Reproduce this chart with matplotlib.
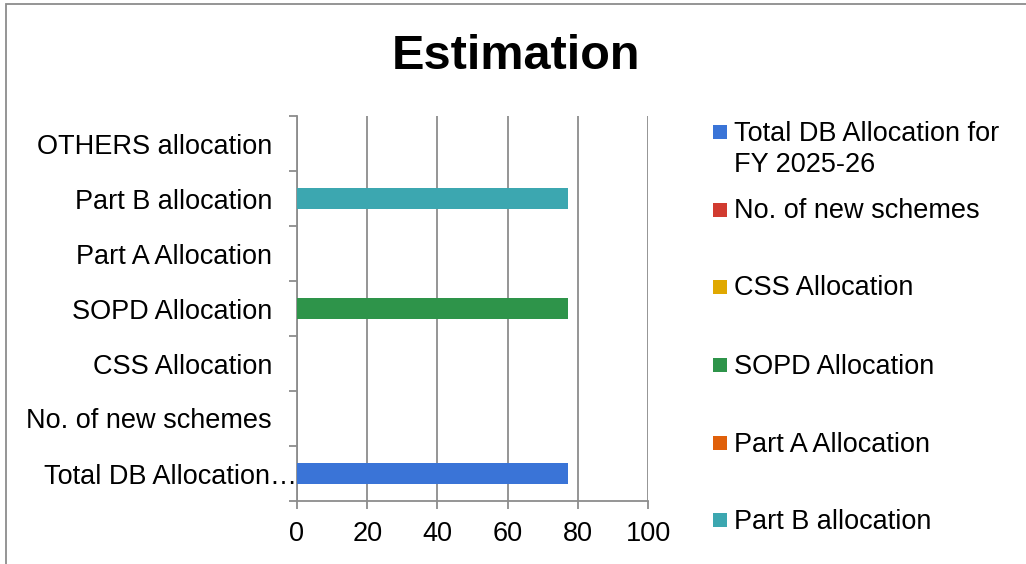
import numpy as np
import matplotlib
matplotlib.use('Agg')
import matplotlib.pyplot as plt
from matplotlib.patches import Rectangle
from matplotlib import transforms

plt.rcParams['font.family'] = ['Liberation Sans', 'DejaVu Sans']

# data (bottom to top, as in the chart)
categories = ['Total DB Allocation for FY 2025-26', 'No. of new schemes', 'CSS Allocation',
              'SOPD Allocation', 'Part A Allocation', 'Part B allocation', 'OTHERS allocation']
tick_labels = ['Total DB Allocation\u2026', 'No. of new schemes', 'CSS Allocation',
               'SOPD Allocation', 'Part A Allocation', 'Part B allocation', 'OTHERS allocation']
values = [77.3, 0, 0, 77.3, 0, 77.3, 0]
colors = ['#3a74d7', '#d13b30', '#e0a800', '#2e944a', '#e0600a', '#3ca7b0', '#8a5cb8']
legend_labels = ['Total DB Allocation for\nFY 2025-26', 'No. of new schemes', 'CSS Allocation',
                 'SOPD Allocation', 'Part A Allocation', 'Part B allocation']
x_ticks = [0, 20, 40, 60, 80, 100]

W, H = 1026, 564
fig = plt.figure(figsize=(W / 100, H / 100), dpi=100)
fig.patch.set_facecolor('white')

# outer chart border (runs off the right / bottom edge)
fig.add_artist(Rectangle((6 / W, -0.1), 2.0, 1.1 - 4 / H, transform=fig.transFigure,
                         fill=False, edgecolor='#8c8c8c', linewidth=1.3))

ax = fig.add_axes([297 / W, (H - 501) / H, 351 / W, 385 / H])
y = np.arange(len(categories))
ax.barh(y, values, height=0.38, color=colors, zorder=3)

ax.set_xlim(0, 100)
ax.set_ylim(-0.5, len(categories) - 0.5)
ax.set_xticks(x_ticks)
ax.set_yticks(y)
ax.set_yticklabels(tick_labels)
ax.set_yticks(np.arange(-0.5, len(categories)), minor=True)

grey = '#8c8c8c'
ax.grid(axis='x', color=grey, linewidth=1.3, zorder=0)
for s in ['top', 'right']:
    ax.spines[s].set_visible(False)
for s in ['left', 'bottom']:
    ax.spines[s].set_color(grey)
    ax.spines[s].set_linewidth(1.3)

ax.tick_params(axis='y', which='major', length=0, pad=18, labelsize=19.5)
ax.tick_params(axis='y', which='minor', length=6, width=1.3, color=grey)
ax.tick_params(axis='x', which='major', length=6, width=1.3, color=grey, pad=8.5, labelsize=19.5)

# excel lets the truncated label run up to the axis
lab = ax.get_yticklabels()[0]
lab.set_transform(lab.get_transform() + transforms.ScaledTranslation(18 / 72, 0, fig.dpi_scale_trans))

fig.text(516 / W, 1 - 69 / H, 'Estimation', ha='center', va='baseline',
         fontsize=35, fontweight='bold')

# legend, drawn by hand to match the spacing
marker_y = [132, 210, 287, 365, 443, 520]
text_base = [141, 218, 295, 374, 452, 529]
for lbl, c, my, tb in zip(legend_labels, colors, marker_y, text_base):
    fig.add_artist(Rectangle((713 / W, 1 - (my + 7) / H), 14 / W, 14 / H,
                             transform=fig.transFigure, facecolor=c, edgecolor='none'))
    for i, line in enumerate(lbl.split('\n')):
        fig.text(734 / W, 1 - (tb + i * 31.5) / H, line, ha='left', va='baseline', fontsize=19.5)

fig.savefig('out.png', dpi=100)
